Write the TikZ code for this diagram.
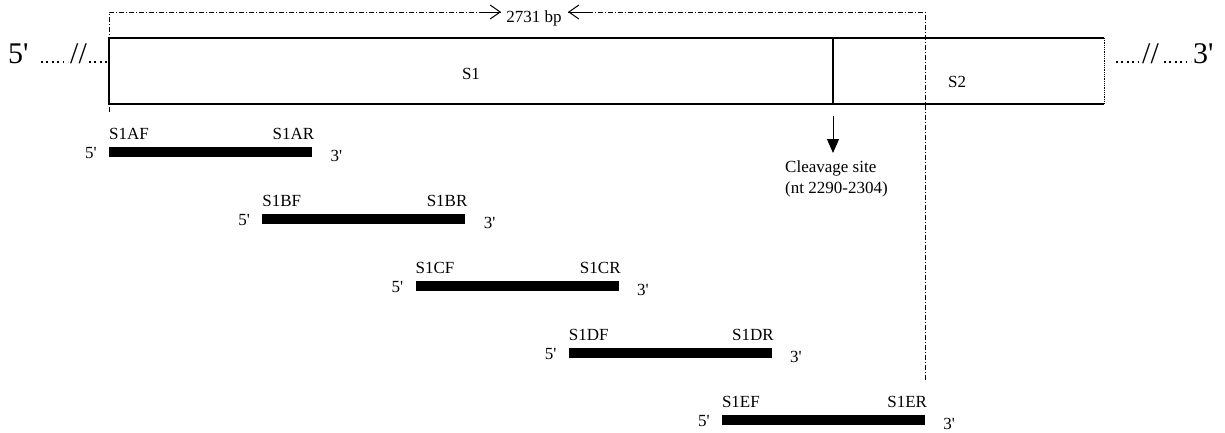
\documentclass[tikz,border=0pt]{standalone}
\usepackage{fontspec}
\setmainfont{Liberation Serif}[Ligatures=TeXOff]
\usetikzlibrary{arrows.meta}
\begin{document}
\begin{tikzpicture}[x=1pt,y=-1pt, font=\fontsize{17}{20}\selectfont,
  lbl/.style={inner sep=0pt},
  bigl/.style={inner sep=0pt, font=\fontsize{30}{34}\selectfont},
  bar/.style={fill=black, draw=none, minimum width=203pt, minimum height=10pt, inner sep=0pt, anchor=west},
  dd/.style={dash pattern=on 5pt off 2pt on 1pt off 2pt, line width=0.9pt},
  dts/.style={line width=1.8pt, dash pattern=on 1.8pt off 3.6pt},
  barb/.style={-{Straight Barb[length=10pt,width=14pt,line width=1pt]}},
]
\useasboundingbox (0,0) rectangle (1225,432);
% genome box
\coordinate (tl) at (109,38);
\coordinate (bl) at (109,104);
\coordinate (tr) at (1104,38);
\coordinate (br) at (1104,104);
\coordinate (ct) at (833,38);
\coordinate (cb) at (833,104);
\draw[line width=2.4pt] (tr) -- (tl) -- (bl) -- (br);
\draw[line width=0.8pt, densely dotted] (tr) -- (br);
\draw[line width=2pt] (ct) -- (cb);
\node[lbl] (s1) at (471,74) {S1};
\node[lbl, anchor=west] (s2) at (948,82) {S2};
% left end
\node[bigl, anchor=base west] (five) at (8,63) {5'};
\coordinate (d1a) at (41,62); \coordinate (d1b) at (68,62);
\draw[dts] (d1a) -- (d1b);
\node[bigl, anchor=base west] (sl1) at (70,63) {//};
\coordinate (d2a) at (89,62); \coordinate (d2b) at (109,62);
\draw[dts] (d2a) -- (d2b);
% right end
\coordinate (d3a) at (1116,62); \coordinate (d3b) at (1140,62);
\draw[dts] (d3a) -- (d3b);
\node[bigl, anchor=base west] (sl2) at (1142,63) {//};
\coordinate (d4a) at (1164,62); \coordinate (d4b) at (1191,62);
\draw[dts] (d4a) -- (d4b);
\node[bigl, anchor=base west] (three) at (1193,63) {3'};
% 2731 bp span
\node[lbl] (bp) at (534,18) {2731 bp};
\coordinate (sL) at (109,112);
\coordinate (cTL) at (109,12);
\coordinate (cTR) at (925,12);
\coordinate (sR) at (925,382);
\coordinate (aL) at (501,12);
\coordinate (aR) at (568,12);
\draw[dd] (sL) -- (cTL) -- (aL);
\draw[barb] (480,12) -- (aL);
\draw[dd] (aR) -- (cTR) -- (sR);
\draw[barb] (589,12) -- (aR);
% cleavage
\coordinate (cv1) at (833,116);
\coordinate (cv2) at (833,153);
\draw[line width=1pt, -{Triangle[length=14pt,width=12pt]}] (cv1) -- (cv2);
\node[lbl, anchor=base west] (cs1) at (785,172) {Cleavage site};
\node[lbl, anchor=base west] (cs2) at (785,193) {(nt 2290-2304)};
% primers
\foreach \L [count=\i from 0] in {A,B,C,D,E} {
  \pgfmathsetmacro\xx{109+153.2*\i}
  \pgfmathsetmacro\yy{152+67*\i}
  \node[bar] (bar\L) at (\xx,\yy) {};
  \node[lbl, anchor=base west] (f\L) at ([yshift=7pt]bar\L.north west) {S1\L F};
  \node[lbl, anchor=base east] (r\L) at ([yshift=7pt,xshift=2pt]bar\L.north east) {S1\L R};
  \node[lbl, anchor=base east] (p5\L) at ([xshift=-12pt,yshift=-6pt]bar\L.west) {5'};
  \node[lbl, anchor=base west] (p3\L) at ([xshift=18pt,yshift=-9pt]bar\L.east) {3'};
}
\end{tikzpicture}
\end{document}
